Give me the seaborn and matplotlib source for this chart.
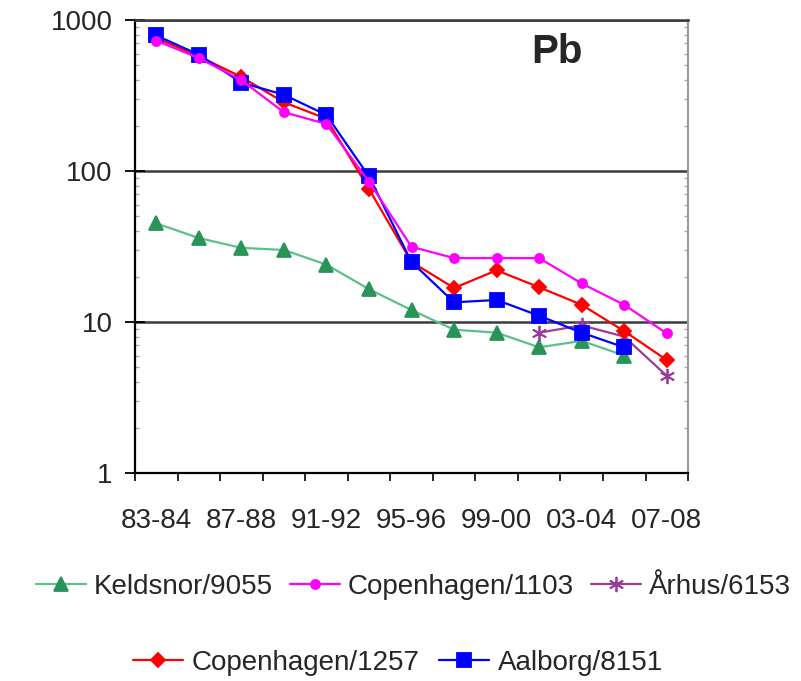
import numpy as np
import pandas as pd
import matplotlib
matplotlib.use('Agg')
import matplotlib.pyplot as plt
from matplotlib.ticker import LogLocator, NullFormatter, FixedLocator
import seaborn as sns

# data (Pb concentrations, log scale)
periods = ['83-84', '85-86', '87-88', '89-90', '91-92', '93-94', '95-96',
           '97-98', '99-00', '01-02', '03-04', '05-06', '07-08']
nan = np.nan
keldsnor = [45, 36, 31, 30, 24, 16.5, 12, 8.9, 8.5, 6.8, 7.5, 6.0, nan]
cph_1103 = [730, 560, 400, 245, 205, 85, 31.5, 26.5, 26.5, 26.5, 18, 13, 8.4]
aarhus = [nan, nan, nan, nan, nan, nan, nan, nan, nan, 8.5, 9.5, 8.0, 4.4]
cph_1257 = [760, 575, 420, 285, 222, 76, 25, 16.8, 22, 17, 13, 8.7, 5.6]
aalborg = [790, 590, 385, 320, 235, 92, 25, 13.5, 14, 11, 8.5, 6.8, nan]
tick_periods = periods[::2]

series = {
    'Keldsnor/9055': keldsnor,
    'Copenhagen/1103': cph_1103,
    'Århus/6153': aarhus,
    'Copenhagen/1257': cph_1257,
    'Aalborg/8151': aalborg,
}

styles = {
    'Keldsnor/9055': dict(color='#5cc08a', marker='^', ms=10, mfc='#2a9458', mec='#2a9458', z=2),
    'Copenhagen/1103': dict(color='#ff00ff', marker='o', ms=6.5, mfc='#ff00ff', mec='#ff00ff', z=6),
    'Århus/6153': dict(color='#9a3c9a', marker=(6, 2, 0), ms=11, mfc='#9a3c9a', mec='#9a3c9a', z=3),
    'Copenhagen/1257': dict(color='#ff0000', marker='D', ms=7.5, mfc='#ff0000', mec='#ff0000', z=4),
    'Aalborg/8151': dict(color='#0000ff', marker='s', ms=9.5, mfc='#0000ff', mec='#0000ff', z=5),
}

df = pd.DataFrame(series)
df['pos'] = np.arange(len(periods))

sns.set_style('white')
plt.rcParams['font.family'] = ['Liberation Sans', 'DejaVu Sans']

fig = plt.figure(figsize=(8.01, 6.81), dpi=100)
ax = fig.add_axes([0.1685, 0.3054, 0.6905, 0.6652])

lines = {}
for name in series:
    st = styles[name]
    sns.lineplot(data=df, x='pos', y=name, ax=ax, color=st['color'], marker=st['marker'],
                 markersize=st['ms'], markerfacecolor=st['mfc'], markeredgecolor=st['mec'],
                 markeredgewidth=1.3, linewidth=1.6, label=name, legend=False, zorder=st['z'])
    lines[name] = ax.get_lines()[-1]

ax.set_yscale('log')
ax.set_ylim(1, 1000)
ax.set_xlim(-0.5, len(periods) - 0.5)
ax.set_xlabel('')
ax.set_ylabel('')

# y axis ticks
ax.set_yticks([1, 10, 100, 1000], labels=['1', '10', '100', '1000'])
ax.yaxis.set_minor_locator(LogLocator(base=10, subs=np.arange(2, 10)))
ax.yaxis.set_minor_formatter(NullFormatter())
ax.tick_params(axis='y', which='major', direction='inout', length=14, width=1.3,
               color='black', labelsize=20, pad=9, left=True)
ax.tick_params(axis='y', which='minor', direction='out', length=3, width=1,
               color='#555555', left=True)
ax.tick_params(axis='y', which='minor', right=True, direction='in', length=3, color='#aaaaaa')

# x axis: labels every other period, tick marks at category boundaries
ax.set_xticks(np.arange(0, len(periods), 2), labels=tick_periods)
ax.xaxis.set_minor_locator(FixedLocator(np.arange(-0.5, len(periods), 1)))
ax.tick_params(axis='x', which='major', length=0, labelsize=20, pad=25)
ax.tick_params(axis='x', which='minor', direction='out', length=6, width=1.2,
               color='black', bottom=True)

ax.yaxis.grid(True, which='major', color='#3a3a3a', linewidth=1.8)
ax.xaxis.grid(False)

for side in ['left', 'bottom']:
    ax.spines[side].set_color('black')
    ax.spines[side].set_linewidth(1.6)
ax.spines['top'].set_color('#3a3a3a')
ax.spines['top'].set_linewidth(1.8)
ax.spines['right'].set_color('#999999')
ax.spines['right'].set_linewidth(1.5)

ax.text(0.763, 0.929, 'Pb', transform=ax.transAxes, ha='center', va='center',
        fontsize=29, fontweight='bold')

# legends: two centered rows
names = list(series)
leg1 = fig.legend([lines[n] for n in names[:3]], names[:3], loc='center',
                  bbox_to_anchor=(0.516, 0.138), ncol=3, frameon=False, fontsize=20,
                  handlelength=1.8, handletextpad=0.3, columnspacing=0.6)
leg2 = fig.legend([lines[n] for n in names[3:]], names[3:], loc='center',
                  bbox_to_anchor=(0.497, 0.027), ncol=2, frameon=False, fontsize=20,
                  handlelength=1.8, handletextpad=0.3, columnspacing=0.7)

fig.savefig('out.png', dpi=100)
plt.close(fig)
